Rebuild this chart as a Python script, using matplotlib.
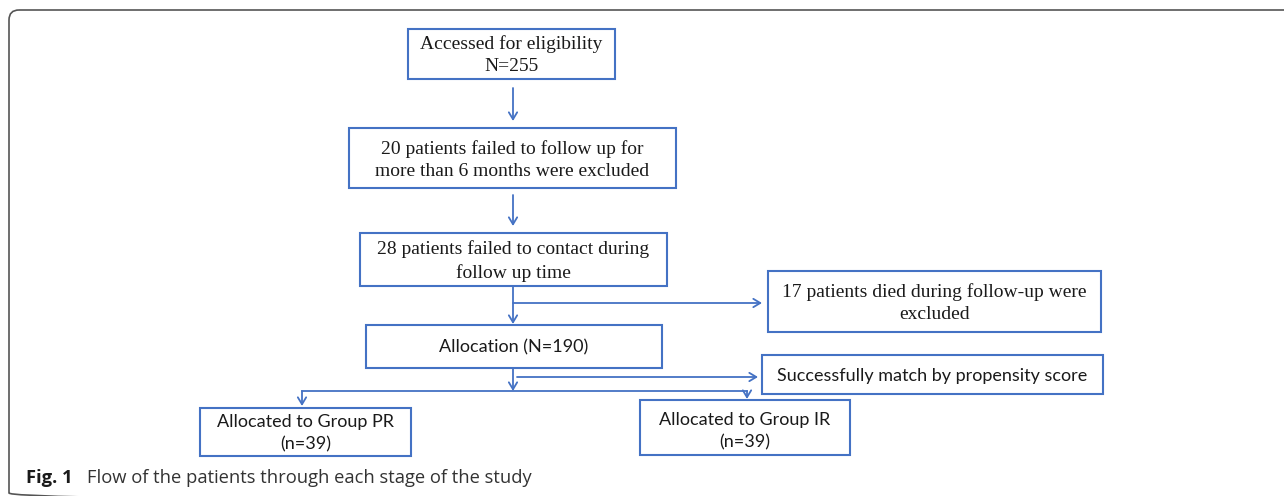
import matplotlib.pyplot as plt
from matplotlib.patches import Rectangle, FancyBboxPatch

# Box texts
box_texts = [
    "Accessed for eligibility\nN=255",
    "20 patients failed to follow up for\nmore than 6 months were excluded",
    "28 patients failed to contact during\nfollow up time",
    "17 patients died during follow-up were\nexcluded",
    "Allocation (N=190)",
    "Successfully match by propensity score",
    "Allocated to Group PR\n(n=39)",
    "Allocated to Group IR\n(n=39)",
]
box_fonts = ["serif", "serif", "serif", "serif", "sans", "sans", "sans", "sans"]
caption_label = "Fig. 1"
caption_text = "Flow of the patients through each stage of the study"

# Layout in pixels (x0, y0, x1, y1), y measured from top; last = text centre y
boxes = [
    (408, 29, 615, 79, 55),
    (349, 128, 676, 188, 160),
    (360, 233, 667, 286, 261),
    (768, 271, 1101, 332, 303),
    (366, 325, 662, 368, 347),
    (762, 355, 1103, 394, 376),
    (200, 408, 411, 456, 433),
    (640, 400, 850, 455, 431),
]

BLUE = '#4472c4'
W, H = 1284, 496

fig = plt.figure(figsize=(W / 100, H / 100), dpi=100)
ax = fig.add_axes([0, 0, 1, 1])
ax.set_xlim(0, W)
ax.set_ylim(H, 0)
ax.axis('off')

# Outer frame with rounded corners (right and bottom run off the picture)
frame = FancyBboxPatch((9, 10), 1400, 493, boxstyle="round,pad=0,rounding_size=10",
                       fill=False, edgecolor='#555555', linewidth=1.2)
ax.add_patch(frame)

serif = 'Liberation Serif'
sans = ['Lato', 'DejaVu Sans']

for (x0, y0, x1, y1, ty), txt, fnt in zip(boxes, box_texts, box_fonts):
    ax.add_patch(Rectangle((x0, y0), x1 - x0, y1 - y0, fill=False,
                           edgecolor=BLUE, linewidth=1.5))
    if fnt == "serif":
        ax.text((x0 + x1) / 2, ty, txt, ha='center', va='center', fontsize=14,
                family=serif, color='#1a1a1a', linespacing=1.42)
    else:
        ax.text((x0 + x1) / 2, ty, txt, ha='center', va='center', fontsize=13,
                family=sans, color='#1a1a1a', linespacing=1.5)


def arrow(x0, y0, x1, y1):
    ax.annotate('', xy=(x1, y1), xytext=(x0, y0),
                arrowprops=dict(arrowstyle='->,head_length=0.5,head_width=0.3',
                                color=BLUE, lw=1.3, shrinkA=0, shrinkB=0))


cx = 513
arrow(cx, 88, cx, 121)
arrow(cx, 195, cx, 226)
arrow(cx, 286, cx, 324)
arrow(cx, 303, 762, 303)
arrow(cx, 368, cx, 391)
arrow(517, 377, 758, 377)
ax.plot([302, 747], [391, 391], color=BLUE, lw=1.3)
arrow(302, 391, 302, 406)
arrow(747, 391, 747, 399)

# Caption
ax.text(26, 478, caption_label, ha='left', va='center', fontsize=13.2,
        family=['Open Sans', 'DejaVu Sans'], fontweight='bold', color='#1a1a1a')
ax.text(87, 478, caption_text, ha='left', va='center', fontsize=13.2,
        family=['Open Sans', 'DejaVu Sans'], color='#333333')

fig.savefig('out.png', dpi=100)
